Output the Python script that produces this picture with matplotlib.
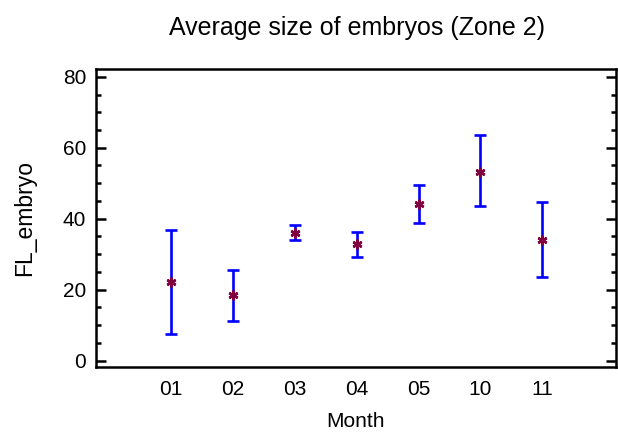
import matplotlib.pyplot as plt
import numpy as np

plt.rcParams['font.family'] = ['Liberation Sans', 'DejaVu Sans']

# Mean size per month with lower / upper interval limits
months = ['01', '02', '03', '04', '05', '10', '11']
means = [22.3, 18.4, 36.0, 32.9, 44.1, 53.3, 34.1]
lower = [7.6, 11.3, 33.9, 29.2, 38.8, 43.7, 23.7]
upper = [36.9, 25.6, 38.2, 36.3, 49.5, 63.7, 44.8]

x = np.arange(len(months))
err = [np.subtract(means, lower), np.subtract(upper, means)]

fig = plt.figure(figsize=(6.18, 4.36), dpi=100)
ax = fig.add_axes([96 / 618, 1 - 367 / 436, (616 - 96) / 618, (367 - 69) / 436])

ax.errorbar(x, means, yerr=err, fmt='none', ecolor='#0000ff',
            elinewidth=1.9, capsize=4.3, capthick=1.9)
ax.plot(x, means, linestyle='none', marker=(6, 2, 0), markersize=7,
        color='#800040', markeredgewidth=1.8)

ax.set_xlim(-1.21, 7.19)
ax.set_ylim(-1.8, 82.2)
ax.set_xticks(x)
ax.set_xticklabels(months)
ax.set_yticks([0, 20, 40, 60, 80])
ax.set_yticks(np.arange(0, 81, 5), minor=True)

ax.tick_params(axis='x', length=0, labelsize=15, pad=9)
ax.tick_params(axis='y', which='major', direction='in', length=7, width=1.8,
               left=True, right=True, labelsize=15, pad=7)
ax.tick_params(axis='y', which='minor', direction='in', length=3.5, width=1.8,
               left=True, right=True)
for s in ax.spines.values():
    s.set_linewidth(1.8)

ax.set_xlabel('Month', fontsize=15)
ax.xaxis.set_label_coords(0.5, -0.15)
ax.set_ylabel('FL_embryo', fontsize=16.5)
ax.yaxis.set_label_coords(-0.115, 0.5)
fig.text(357 / 618, 1 - 35 / 436, 'Average size of embryos (Zone 2)',
         ha='center', va='baseline', fontsize=18)

fig.savefig('out.png', dpi=100)
